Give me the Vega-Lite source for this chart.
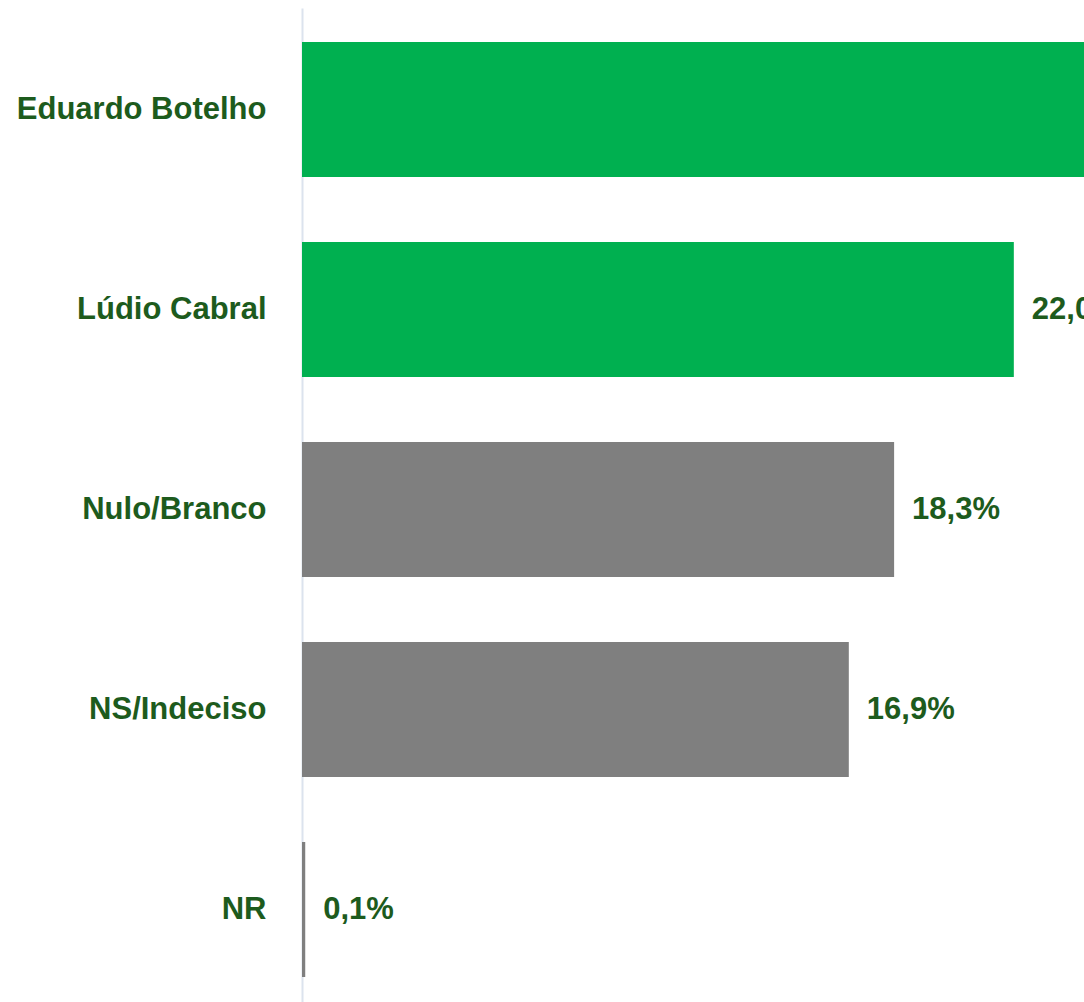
{
  "$schema": "https://vega.github.io/schema/vega-lite/v6.json",
  "autosize": "none",
  "width": 1456,
  "height": 1003,
  "padding": {"left": 302, "top": 8, "right": 0, "bottom": 0},
  "background": "white",
  "config": {
    "view": {"stroke": null},
    "locale": {"number": {"decimal": ",", "thousands": ".", "grouping": [3], "currency": ["R$", ""]}}
  },
  "data": {
    "values": [
      {"nome": "Eduardo Botelho", "valor": 0.427, "grupo": "candidato"},
      {"nome": "Lúdio Cabral", "valor": 0.220, "grupo": "candidato"},
      {"nome": "Nulo/Branco", "valor": 0.183, "grupo": "outro"},
      {"nome": "NS/Indeciso", "valor": 0.169, "grupo": "outro"},
      {"nome": "NR", "valor": 0.001, "grupo": "outro"}
    ]
  },
  "encoding": {
    "y": {
      "field": "nome",
      "type": "nominal",
      "sort": null,
      "scale": {"paddingInner": 0.325, "paddingOuter": 0.17},
      "axis": {
        "title": null,
        "ticks": false,
        "grid": false,
        "domainColor": "#DCE3EE",
        "domainWidth": 2,
        "labelFont": "Liberation Sans",
        "labelFontWeight": "bold",
        "labelFontSize": 31,
        "labelColor": "#1D5B1D",
        "labelPadding": 36,
        "labelLimit": 400
      }
    },
    "x": {
      "field": "valor",
      "type": "quantitative",
      "scale": {"domain": [0, 0.45], "nice": false},
      "axis": null
    }
  },
  "layer": [
    {
      "mark": {"type": "bar"},
      "encoding": {
        "color": {
          "field": "grupo",
          "type": "nominal",
          "scale": {"domain": ["candidato", "outro"], "range": ["#00B050", "#7F7F7F"]},
          "legend": null
        }
      }
    },
    {
      "mark": {
        "type": "text",
        "align": "left",
        "baseline": "middle",
        "dx": 18,
        "font": "Liberation Sans",
        "fontWeight": "bold",
        "fontSize": 31,
        "color": "#1D5B1D"
      },
      "encoding": {
        "text": {"field": "valor", "type": "quantitative", "format": ".1%"}
      }
    }
  ]
}
